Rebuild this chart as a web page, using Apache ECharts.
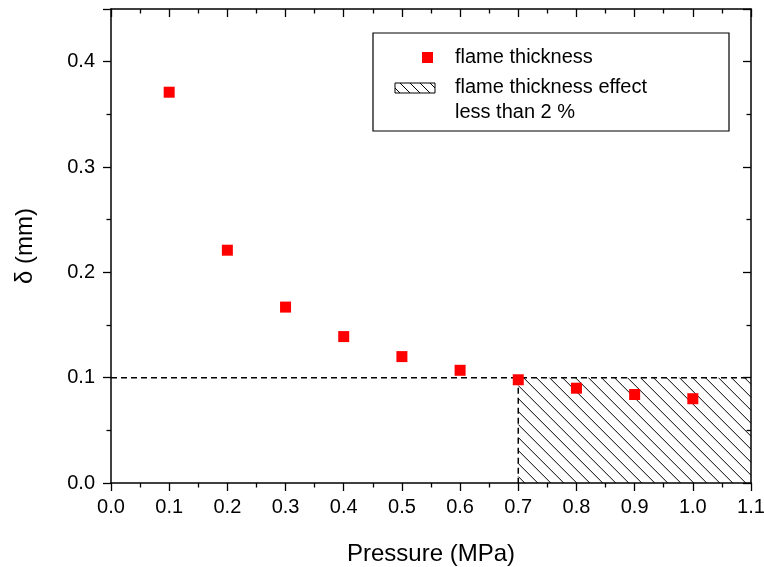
<!DOCTYPE html>
<html><head><meta charset="utf-8">
<script src="https://cdn.jsdelivr.net/npm/echarts@6/dist/echarts.min.js"></script>
<style>html,body{margin:0;padding:0;background:#fff}#c{width:764px;height:567px}</style>
</head><body><div id="c"></div>
<script>
const pressure = [0.1, 0.2, 0.3, 0.4, 0.5, 0.6, 0.7, 0.8, 0.9, 1.0];
const thickness = [0.371, 0.221, 0.167, 0.139, 0.120, 0.107, 0.098, 0.090, 0.084, 0.080];
const refLevel = 0.1;
const hatchX = [0.7, 1.1];
const hatchY = [0, 0.1];
const xRange = [0, 1.1];
const yRange = [0, 0.45];
const seriesNames = ['flame thickness', 'flame thickness effect', 'less than 2 %'];
const xName = 'Pressure (MPa)';
const yName = 'δ (mm)';

const FONT = 'Arial, "Liberation Sans", sans-serif';
const chart = echarts.init(document.getElementById('c'), null, {renderer: 'canvas'});

function hatchLines(x0, y0, x1, y1, step, style, z) {
  const out = [];
  for (let k = x0 - y1 + step / 2; k < x1 - y0; k += step) {
    const sx = Math.max(x0, y0 + k), ex = Math.min(x1, y1 + k);
    if (ex > sx) {
      const el = {type: 'line', shape: {x1: sx, y1: sx - k, x2: ex, y2: ex - k}, style: style};
      if (z !== undefined) el.z = z;
      out.push(el);
    }
  }
  return out;
}

const axisLine = {show: true, onZero: false, lineStyle: {color: '#000', width: 1.5}};
const tickStyle = {color: '#000', width: 1.3};
const scatterData = pressure.map((p, i) => [p, thickness[i]]);

const option = {
  animation: false,
  backgroundColor: '#fff',
  grid: {left: 111, right: 13, top: 9, bottom: 84, containLabel: false, outerBoundsMode: 'none'},
  xAxis: [{
    type: 'value', min: xRange[0], max: xRange[1], interval: 0.1,
    name: xName, nameLocation: 'middle', nameGap: 59,
    nameTextStyle: {fontFamily: FONT, fontSize: 24, color: '#000'},
    axisLine: axisLine,
    axisTick: {show: true, inside: false, length: 8, lineStyle: tickStyle},
    minorTick: {show: true, splitNumber: 2, length: 4.5, lineStyle: tickStyle},
    axisLabel: {fontFamily: FONT, fontSize: 20, color: '#000', margin: 14, formatter: v => v.toFixed(1)},
    splitLine: {show: false}
  }, {
    type: 'value', position: 'top', min: xRange[0], max: xRange[1], interval: 0.1,
    axisLine: axisLine,
    axisTick: {show: true, inside: true, length: 8, lineStyle: tickStyle},
    minorTick: {show: true, splitNumber: 2, length: 4.5, lineStyle: tickStyle},
    axisLabel: {show: false}, splitLine: {show: false}
  }],
  yAxis: [{
    type: 'value', min: yRange[0], max: yRange[1], interval: 0.1,
    name: yName, nameLocation: 'middle', nameGap: 74,
    nameTextStyle: {fontFamily: FONT, fontSize: 24, color: '#000'},
    axisLine: axisLine,
    axisTick: {show: true, inside: false, length: 8, lineStyle: tickStyle},
    minorTick: {show: true, splitNumber: 2, length: 4.5, lineStyle: tickStyle},
    axisLabel: {fontFamily: FONT, fontSize: 20, color: '#000', margin: 16, showMaxLabel: false,
      formatter: v => (Math.abs(v * 10 - Math.round(v * 10)) < 1e-6 ? v.toFixed(1) : '')},
    splitLine: {show: false}
  }, {
    type: 'value', position: 'right', min: yRange[0], max: yRange[1], interval: 0.1,
    axisLine: axisLine,
    axisTick: {show: true, inside: true, length: 8, lineStyle: tickStyle},
    minorTick: {show: true, splitNumber: 2, length: 4.5, lineStyle: tickStyle},
    axisLabel: {show: false}, splitLine: {show: false}
  }],
  series: [
    {
      name: seriesNames[1], type: 'custom', xAxisIndex: 0, yAxisIndex: 0, z: 1,
      data: [[hatchX[0], hatchX[1], hatchY[0], hatchY[1]]],
      renderItem: function (params, api) {
        const a = api.coord([api.value(0), api.value(3)]);
        const b = api.coord([api.value(1), api.value(2)]);
        const lines = hatchLines(a[0], a[1], b[0], b[1], 13, {stroke: '#000', lineWidth: 1});
        lines.push({type: 'line', shape: {x1: a[0], y1: a[1], x2: a[0], y2: b[1]},
          style: {stroke: '#000', lineWidth: 1.5, lineDash: [6, 4]}});
        return {type: 'group', children: lines};
      }
    },
    {
      name: 'reference', type: 'line', xAxisIndex: 0, yAxisIndex: 0, z: 2,
      data: [[xRange[0], refLevel], [xRange[1], refLevel]],
      symbol: 'none', silent: true,
      lineStyle: {color: '#000', width: 1.5, type: [6, 4]}
    },
    {
      name: seriesNames[0], type: 'scatter', xAxisIndex: 0, yAxisIndex: 0, z: 5,
      data: scatterData, symbol: 'rect', symbolSize: 11,
      itemStyle: {color: '#ff0000', opacity: 1}
    }
  ],
  graphic: [
    {type: 'rect', shape: {x: 373, y: 33, width: 356, height: 98},
      style: {fill: '#fff', stroke: '#000', lineWidth: 1.2}, z: 10},
    {type: 'rect', shape: {x: 422, y: 52, width: 11, height: 11}, style: {fill: '#ff0000'}, z: 11},
    {type: 'text', x: 455, y: 57, z: 11,
      style: {text: seriesNames[0], font: '20px ' + FONT, fill: '#000', verticalAlign: 'middle'}},
    {type: 'rect', shape: {x: 395, y: 83, width: 40, height: 10},
      style: {fill: '#fff', stroke: '#000', lineWidth: 1}, z: 11},
    {type: 'group', z: 12, children: hatchLines(395, 83, 435, 93, 10, {stroke: '#000', lineWidth: 1}, 12)},
    {type: 'text', x: 455, y: 87, z: 11,
      style: {text: seriesNames[1], font: '20px ' + FONT, fill: '#000', verticalAlign: 'middle'}},
    {type: 'text', x: 455, y: 112, z: 11,
      style: {text: seriesNames[2], font: '20px ' + FONT, fill: '#000', verticalAlign: 'middle'}}
  ]
};
chart.setOption(option);
</script>
</body></html>
